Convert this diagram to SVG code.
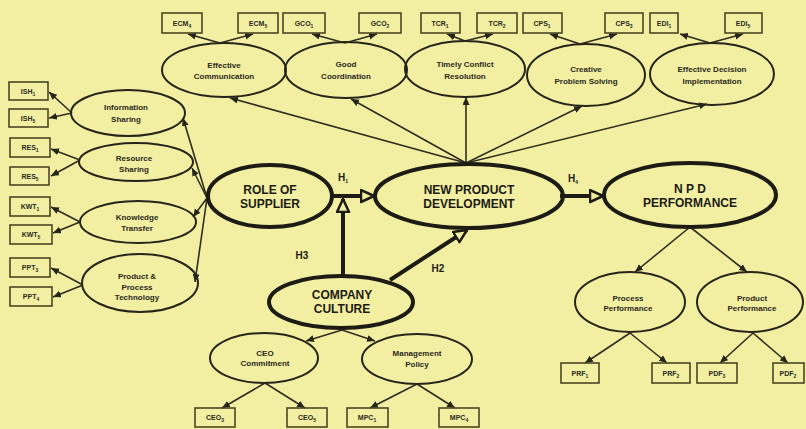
<svg xmlns="http://www.w3.org/2000/svg" width="806" height="429" viewBox="0 0 806 429">
<style>
.el{fill:none;stroke:#26251a;stroke-width:2}
.key{fill:none;stroke:#1c1b14;stroke-width:4}
.box{fill:none;stroke:#4a4624;stroke-width:1.6}
.ln{fill:none;stroke:#2f2e1e;stroke-width:1.6;marker-end:url(#ah)}
.th{fill:none;stroke:#1c1b14;stroke-width:4;marker-end:url(#big)}
text{font-family:"Liberation Sans",Arial,sans-serif;font-weight:bold;fill:#2a2920;text-anchor:middle}
.t{font-size:8px}
.bt{font-size:7px}
.kt{font-size:12px;fill:#1c1b14}
.h{font-size:10px;fill:#1c1b14}
.s{font-size:5px}
</style>
<defs>
<marker id="ah" markerUnits="userSpaceOnUse" markerWidth="9" markerHeight="8" refX="8" refY="3.5" orient="auto"><path d="M0,0 L8,3.5 L0,7 z" fill="#26251a"/></marker>
<marker id="big" markerUnits="userSpaceOnUse" markerWidth="18" markerHeight="16" refX="14" refY="7" orient="auto"><path d="M1,1 L14,7 L1,13 z" fill="#f2efa2" stroke="#1c1b14" stroke-width="2.5" stroke-linejoin="round"/></marker>
</defs>
<rect width="806" height="429" fill="#f2efa2"/>

<g id="connectors">
<!-- top fan from NPD -->
<path class="ln" d="M466,163 L230,98"/>
<path class="ln" d="M466,163 L351,99"/>
<path class="ln" d="M466,163 L466,97"/>
<path class="ln" d="M466,163 L582,106"/>
<path class="ln" d="M466,163 L707,104"/>
<!-- left fan from Role of Supplier -->
<path class="ln" d="M207,198 L183,118"/>
<path class="ln" d="M207,198 L192,168"/>
<path class="ln" d="M207,198 L193,217"/>
<path class="ln" d="M207,198 L195,282"/>
<!-- left ellipses to boxes -->
<path class="ln" d="M72,113 L49,92"/>
<path class="ln" d="M72,113 L49,118"/>
<path class="ln" d="M80,160 L51,149"/>
<path class="ln" d="M80,160 L51,176"/>
<path class="ln" d="M80,222 L51,207"/>
<path class="ln" d="M80,222 L53,233"/>
<path class="ln" d="M83,285 L51,268"/>
<path class="ln" d="M83,285 L53,297"/>
<!-- top ellipses to boxes -->
<path class="ln" d="M220,43 L188,34"/>
<path class="ln" d="M220,43 L253,34"/>
<path class="ln" d="M345,43 L312,34"/>
<path class="ln" d="M345,43 L377,34"/>
<path class="ln" d="M465,41 L447,34"/>
<path class="ln" d="M465,41 L493,34"/>
<path class="ln" d="M580,44 L550,34"/>
<path class="ln" d="M580,44 L617,34"/>
<path class="ln" d="M710,43 L680,34"/>
<path class="ln" d="M710,43 L743,34"/>
<!-- company culture -->
<path class="ln" d="M342,330 L306,341"/>
<path class="ln" d="M342,330 L375,341"/>
<path class="ln" d="M265,383 L222,408"/>
<path class="ln" d="M265,383 L305,408"/>
<path class="ln" d="M417,384 L370,408"/>
<path class="ln" d="M417,384 L455,408"/>
<!-- NPD performance -->
<path class="ln" d="M690,227 L635,272"/>
<path class="ln" d="M690,227 L747,272"/>
<path class="ln" d="M630,333 L585,363"/>
<path class="ln" d="M630,333 L667,363"/>
<path class="ln" d="M753,333 L720,363"/>
<path class="ln" d="M753,333 L788,363"/>
<!-- hypotheses -->
<path class="th" d="M332,196 L374,196"/>
<path class="th" d="M343,277 L343,199"/>
<path class="th" d="M390,280 L467,230"/>
<path class="th" d="M560,196 L603,196"/>
<text class="h" x="343" y="181">H<tspan class="s" dy="2">1</tspan></text>
<text class="h" x="573" y="182">H<tspan class="s" dy="2">4</tspan></text>
<text class="h" x="302" y="259">H3</text>
<text class="h" x="438" y="272">H2</text>
</g>

<!-- top boxes -->
<g id="ECM4"><rect class="box" x="162" y="13" width="40" height="20"/><text class="bt" x="182" y="26">ECM<tspan class="s" dy="1.5">4</tspan></text></g>
<g id="ECM5"><rect class="box" x="238" y="13" width="40" height="20"/><text class="bt" x="258" y="26">ECM<tspan class="s" dy="1.5">5</tspan></text></g>
<g id="GCO1"><rect class="box" x="283" y="13" width="42" height="20"/><text class="bt" x="304" y="26">GCO<tspan class="s" dy="1.5">1</tspan></text></g>
<g id="GCO2"><rect class="box" x="359" y="13" width="42" height="20"/><text class="bt" x="380" y="26">GCO<tspan class="s" dy="1.5">2</tspan></text></g>
<g id="TCR1"><rect class="box" x="421" y="13" width="39" height="20"/><text class="bt" x="440" y="26">TCR<tspan class="s" dy="1.5">1</tspan></text></g>
<g id="TCR2"><rect class="box" x="477" y="13" width="40" height="20"/><text class="bt" x="497" y="26">TCR<tspan class="s" dy="1.5">2</tspan></text></g>
<g id="CPS1"><rect class="box" x="523" y="13" width="39" height="20"/><text class="bt" x="542" y="26">CPS<tspan class="s" dy="1.5">1</tspan></text></g>
<g id="CPS3"><rect class="box" x="605" y="13" width="38" height="20"/><text class="bt" x="624" y="26">CPS<tspan class="s" dy="1.5">3</tspan></text></g>
<g id="EDI1"><rect class="box" x="650" y="13" width="28" height="20"/><text class="bt" x="664" y="26">EDI<tspan class="s" dy="1.5">1</tspan></text></g>
<g id="EDI5"><rect class="box" x="725" y="13" width="37" height="20"/><text class="bt" x="743" y="26">EDI<tspan class="s" dy="1.5">5</tspan></text></g>

<!-- top ellipses -->
<g id="effective-communication"><ellipse class="el" cx="224" cy="70" rx="62" ry="27"/><text class="t" x="224" y="68">Effective</text><text class="t" x="224" y="79">Communication</text></g>
<g id="good-coordination"><ellipse class="el" cx="346" cy="70" rx="61" ry="28"/><text class="t" x="346" y="67">Good</text><text class="t" x="346" y="79">Coordination</text></g>
<g id="timely-conflict"><ellipse class="el" cx="465" cy="69" rx="60" ry="28"/><text class="t" x="465" y="67">Timely Conflict</text><text class="t" x="465" y="79">Resolution</text></g>
<g id="creative-problem"><ellipse class="el" cx="586" cy="75" rx="59" ry="31"/><text class="t" x="586" y="72">Creative</text><text class="t" x="586" y="84">Problem Solving</text></g>
<g id="effective-decision"><ellipse class="el" cx="712" cy="74" rx="62" ry="31"/><text class="t" x="712" y="72">Effective Decision</text><text class="t" x="712" y="84">Implementation</text></g>

<!-- left boxes -->
<g id="ISH1"><rect class="box" x="9" y="82" width="39" height="18"/><text class="bt" x="28" y="94">ISH<tspan class="s" dy="1.5">1</tspan></text></g>
<g id="ISH5"><rect class="box" x="9" y="109" width="39" height="18"/><text class="bt" x="28" y="121">ISH<tspan class="s" dy="1.5">5</tspan></text></g>
<g id="RES1"><rect class="box" x="10" y="138" width="40" height="19"/><text class="bt" x="30" y="150">RES<tspan class="s" dy="1.5">1</tspan></text></g>
<g id="RES5"><rect class="box" x="10" y="167" width="39" height="18"/><text class="bt" x="30" y="179">RES<tspan class="s" dy="1.5">5</tspan></text></g>
<g id="KWT1"><rect class="box" x="10" y="197" width="40" height="19"/><text class="bt" x="30" y="209">KWT<tspan class="s" dy="1.5">1</tspan></text></g>
<g id="KWT5"><rect class="box" x="10" y="225" width="42" height="19"/><text class="bt" x="31" y="237">KWT<tspan class="s" dy="1.5">5</tspan></text></g>
<g id="PPT3"><rect class="box" x="10" y="258" width="40" height="19"/><text class="bt" x="30" y="270">PPT<tspan class="s" dy="1.5">3</tspan></text></g>
<g id="PPT4"><rect class="box" x="10" y="287" width="42" height="19"/><text class="bt" x="31" y="299">PPT<tspan class="s" dy="1.5">4</tspan></text></g>

<!-- left ellipses -->
<g id="information-sharing"><ellipse class="el" cx="128" cy="113" rx="57" ry="23"/><text class="t" x="126" y="110">Information</text><text class="t" x="126" y="122">Sharing</text></g>
<g id="resource-sharing"><ellipse class="el" cx="136" cy="162" rx="57" ry="19"/><text class="t" x="134" y="161">Resource</text><text class="t" x="134" y="172">Sharing</text></g>
<g id="knowledge-transfer"><ellipse class="el" cx="138" cy="222" rx="58" ry="21"/><text class="t" x="137" y="220">Knowledge</text><text class="t" x="137" y="231">Transfer</text></g>
<g id="product-process"><ellipse class="el" cx="140" cy="283" rx="58" ry="29"/><text class="t" x="137" y="279">Product &amp;</text><text class="t" x="137" y="290">Process</text><text class="t" x="137" y="300">Technology</text></g>

<!-- key constructs -->
<g id="role-of-supplier"><ellipse class="key" cx="270" cy="196" rx="62" ry="31"/><text class="kt" x="270" y="194">ROLE OF</text><text class="kt" x="270" y="208">SUPPLIER</text></g>
<g id="new-product-development"><ellipse class="key" cx="469" cy="196" rx="94" ry="32"/><text class="kt" x="469" y="194">NEW PRODUCT</text><text class="kt" x="469" y="208">DEVELOPMENT</text></g>
<g id="npd-performance"><ellipse class="key" cx="690" cy="195" rx="86" ry="32"/><text class="kt" x="690" y="193">N P D</text><text class="kt" x="690" y="207">PERFORMANCE</text></g>
<g id="company-culture"><ellipse class="key" cx="341" cy="302" rx="72" ry="26"/><text class="kt" x="342" y="299">COMPANY</text><text class="kt" x="342" y="313">CULTURE</text></g>

<!-- bottom left -->
<g id="ceo-commitment"><ellipse class="el" cx="264" cy="358" rx="54" ry="25"/><text class="t" x="265" y="356">CEO</text><text class="t" x="265" y="366">Commitment</text></g>
<g id="management-policy"><ellipse class="el" cx="417" cy="359" rx="55" ry="25"/><text class="t" x="417" y="356">Management</text><text class="t" x="417" y="367">Policy</text></g>
<g id="CEO3"><rect class="box" x="195" y="408" width="40" height="19"/><text class="bt" x="215" y="420">CEO<tspan class="s" dy="1.5">3</tspan></text></g>
<g id="CEO5"><rect class="box" x="287" y="408" width="40" height="19"/><text class="bt" x="307" y="420">CEO<tspan class="s" dy="1.5">5</tspan></text></g>
<g id="MPC1"><rect class="box" x="347" y="408" width="41" height="19"/><text class="bt" x="367" y="420">MPC<tspan class="s" dy="1.5">1</tspan></text></g>
<g id="MPC4"><rect class="box" x="439" y="408" width="40" height="19"/><text class="bt" x="459" y="420">MPC<tspan class="s" dy="1.5">4</tspan></text></g>

<!-- bottom right -->
<g id="process-performance"><ellipse class="el" cx="630" cy="302" rx="55" ry="30"/><text class="t" x="628" y="301">Process</text><text class="t" x="628" y="311">Performance</text></g>
<g id="product-performance"><ellipse class="el" cx="750" cy="302" rx="53" ry="30"/><text class="t" x="752" y="301">Product</text><text class="t" x="752" y="311">Performance</text></g>
<g id="PRF1"><rect class="box" x="561" y="363" width="38" height="20"/><text class="bt" x="580" y="376">PRF<tspan class="s" dy="1.5">1</tspan></text></g>
<g id="PRF2"><rect class="box" x="652" y="363" width="38" height="20"/><text class="bt" x="671" y="376">PRF<tspan class="s" dy="1.5">2</tspan></text></g>
<g id="PDF3"><rect class="box" x="697" y="363" width="40" height="20"/><text class="bt" x="717" y="376">PDF<tspan class="s" dy="1.5">3</tspan></text></g>
<g id="PDF2"><rect class="box" x="773" y="363" width="31" height="20"/><text class="bt" x="788" y="376">PDF<tspan class="s" dy="1.5">2</tspan></text></g>
</svg>
